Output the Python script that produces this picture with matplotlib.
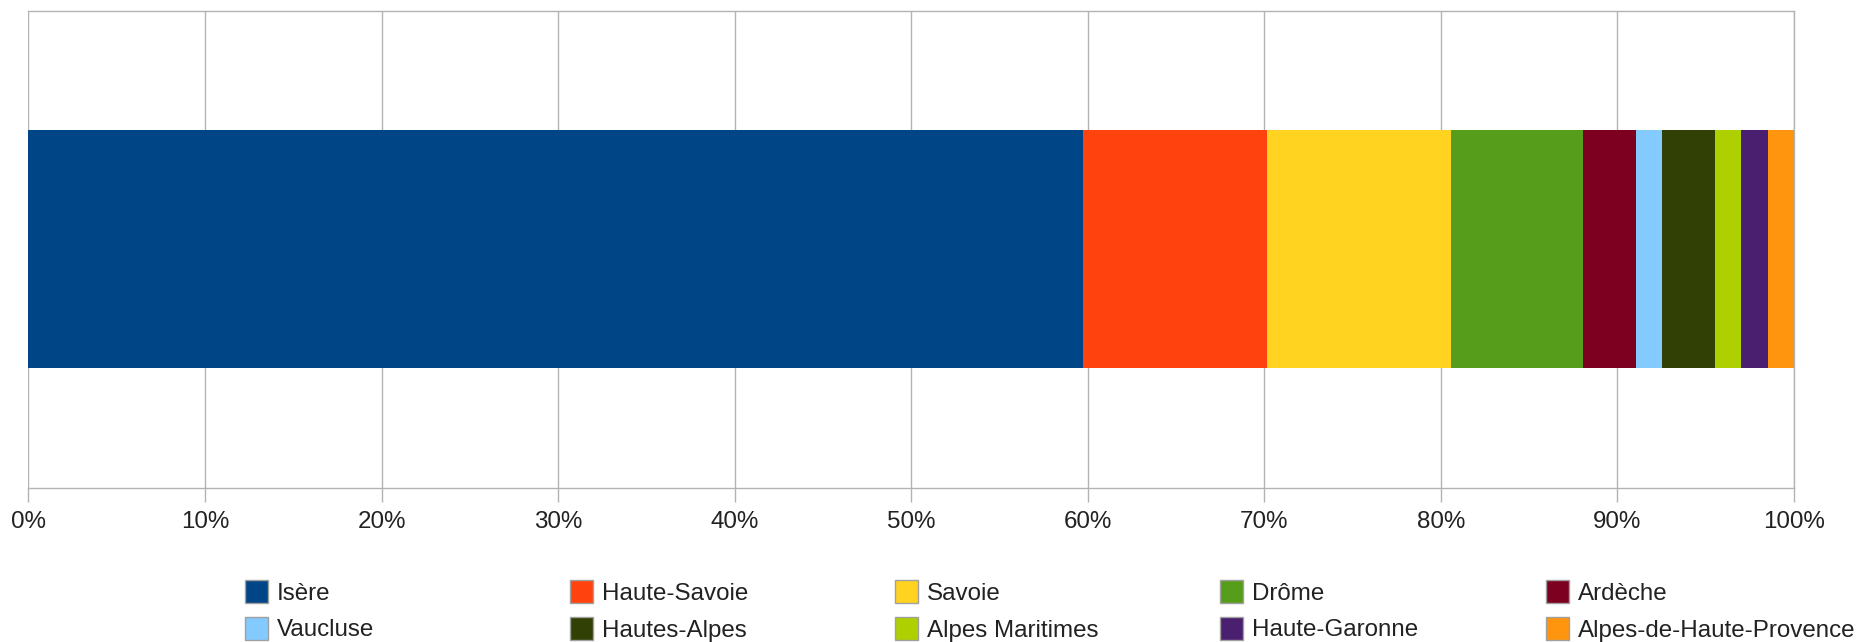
import matplotlib
matplotlib.use("Agg")
import matplotlib.pyplot as plt
from matplotlib.patches import Rectangle
from matplotlib.ticker import FuncFormatter
import numpy as np

plt.rcParams['font.family'] = ['Liberation Sans', 'DejaVu Sans']

categories = ["Isère", "Haute-Savoie", "Savoie", "Drôme", "Ardèche",
              "Vaucluse", "Hautes-Alpes", "Alpes Maritimes", "Haute-Garonne",
              "Alpes-de-Haute-Provence"]
values = [40, 7, 7, 5, 2, 1, 2, 1, 1, 1]
colors = ["#004586", "#ff420e", "#ffd320", "#579d1c", "#7e0021",
          "#83caff", "#314004", "#aecf00", "#4b1f6f", "#ff950e"]
xticks = [0, 10, 20, 30, 40, 50, 60, 70, 80, 90, 100]

W, H = 1858, 642
fig = plt.figure(figsize=(W / 100, H / 100), dpi=100)
left, right, top, bottom = 28.5, 1794, 10.5, 487.5
ax = fig.add_axes([left / W, 1 - bottom / H, (right - left) / W, (bottom - top) / H])

grid_c = "#b3b3b3"
total = float(sum(values))
shares = np.array(values) / total * 100
starts = np.concatenate([[0], np.cumsum(shares)[:-1]])
for cat, s, w, c in zip(categories, starts, shares, colors):
    ax.barh(0, w, left=s, height=0.5, color=c, edgecolor='none', label=cat, zorder=3)

ax.set_xlim(0, 100)
ax.set_ylim(-0.5, 0.5)
ax.set_yticks([])
ax.set_xticks(xticks)
ax.xaxis.set_major_formatter(FuncFormatter(lambda v, p: f"{v:.0f}%"))
ax.grid(axis='x', color=grid_c, linewidth=1.0, zorder=0)
for s in ax.spines.values():
    s.set_color(grid_c)
    s.set_linewidth(1.0)
ax.spines['left'].set_visible(False)
ax.tick_params(axis='x', direction='out', length=10, width=1.0, color=grid_c,
               labelsize=17.4, labelcolor="#222222", pad=7)

# legend: 2 rows x 5 columns, uniform column spacing
col_x = [245, 570, 895, 1220, 1546]
row_y = [591, 628]
sq = 23
for i, (cat, c) in enumerate(zip(categories, colors)):
    r, k = divmod(i, 5)
    x0 = col_x[k]
    yc = row_y[r]
    fig.add_artist(Rectangle((x0 / W, 1 - (yc + sq / 2) / H), sq / W, sq / H,
                             transform=fig.transFigure, facecolor=c,
                             edgecolor="#a0a0a0", linewidth=1.0))
    fig.text((x0 + sq + 9) / W, 1 - yc / H, cat, fontsize=17.4, color="#222222",
             ha='left', va='center_baseline')

fig.savefig("out.png", dpi=100, facecolor='white')
